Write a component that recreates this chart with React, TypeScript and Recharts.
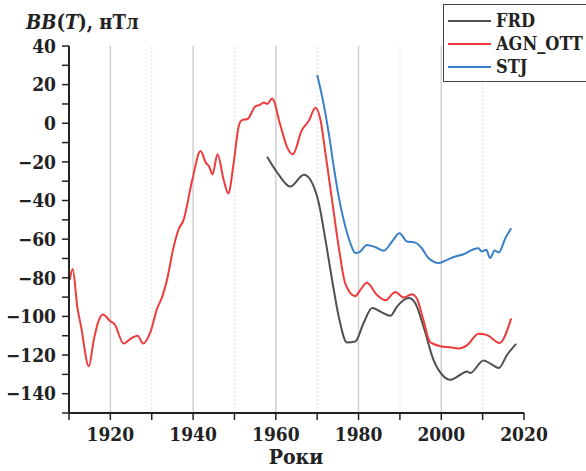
import React from 'react';
import { LineChart, Line, XAxis, YAxis, ReferenceLine } from 'recharts';

const FONT = '"DejaVu Serif Condensed", "DejaVu Serif", serif';
const INK = '#222';

const RED = '#ee3b3b';
const BLUE = '#3a80c8';
const GRAY = '#505050';

// year, value (нТл)
const agnOtt = [
  { year: 1910.2, v: -81 }, { year: 1910.9, v: -75.5 }, { year: 1912.0, v: -95 },
  { year: 1912.9, v: -105 }, { year: 1914.8, v: -125.8 }, { year: 1916.0, v: -112 },
  { year: 1917.2, v: -102 }, { year: 1918.2, v: -99 }, { year: 1920.0, v: -102.5 },
  { year: 1921.0, v: -104 }, { year: 1923.2, v: -114 }, { year: 1925.3, v: -111 },
  { year: 1926.6, v: -110 }, { year: 1927.9, v: -114 }, { year: 1929.7, v: -108 },
  { year: 1931.3, v: -96 }, { year: 1932.5, v: -90 }, { year: 1933.7, v: -81 },
  { year: 1935.3, v: -64 }, { year: 1936.5, v: -55 }, { year: 1937.7, v: -50 },
  { year: 1939.8, v: -29.4 }, { year: 1941.8, v: -14.4 }, { year: 1943.1, v: -20.5 },
  { year: 1943.9, v: -22.5 }, { year: 1944.7, v: -26.5 }, { year: 1945.9, v: -16 },
  { year: 1947.4, v: -29.4 }, { year: 1948.5, v: -36.3 }, { year: 1949.8, v: -20.8 },
  { year: 1951.0, v: -1.8 }, { year: 1951.8, v: 1.6 }, { year: 1953.2, v: 2.2 },
  { year: 1955.1, v: 8.9 }, { year: 1956.1, v: 9.4 }, { year: 1957.1, v: 10.8 },
  { year: 1957.9, v: 10 }, { year: 1959.1, v: 12.8 }, { year: 1961.1, v: -1 },
  { year: 1962.7, v: -12.2 }, { year: 1964.1, v: -16.1 }, { year: 1966.3, v: -3.5 },
  { year: 1967.9, v: 1 }, { year: 1969.6, v: 8 }, { year: 1970.8, v: 1.7 },
  { year: 1972.0, v: -15.6 }, { year: 1973.6, v: -39.8 }, { year: 1975.2, v: -64 },
  { year: 1976.8, v: -83 }, { year: 1979.2, v: -89.5 }, { year: 1980.4, v: -86.4 },
  { year: 1982.0, v: -82.6 }, { year: 1984.5, v: -89 }, { year: 1986.5, v: -91.6 },
  { year: 1988.9, v: -87.3 }, { year: 1990.9, v: -90.2 }, { year: 1992.9, v: -88.5 },
  { year: 1994.1, v: -90.7 }, { year: 1995.7, v: -102 }, { year: 1997.3, v: -113.2 },
  { year: 1999.8, v: -115.4 }, { year: 2002.2, v: -116 }, { year: 2004.2, v: -116.6 },
  { year: 2006.2, v: -115 }, { year: 2009.0, v: -109 }, { year: 2011.1, v: -109.7 },
  { year: 2014.1, v: -113.7 }, { year: 2016.9, v: -101 },
];

const frd = [
  { year: 1957.9, v: -17.3 }, { year: 1960.5, v: -26 }, { year: 1963.5, v: -32.8 },
  { year: 1966.8, v: -26.7 }, { year: 1968.8, v: -31 }, { year: 1970.4, v: -41.4 },
  { year: 1972.0, v: -60.4 }, { year: 1973.6, v: -81 }, { year: 1975.2, v: -100 },
  { year: 1977.2, v: -113.5 }, { year: 1979.2, v: -113 }, { year: 1981.2, v: -103.5 },
  { year: 1983.3, v: -95.7 }, { year: 1985.3, v: -97.5 }, { year: 1987.7, v: -99.7 },
  { year: 1989.3, v: -94.9 }, { year: 1992.1, v: -90.5 }, { year: 1993.7, v: -93.1 },
  { year: 1995.7, v: -105.2 }, { year: 1998.1, v: -122.4 }, { year: 2000.2, v: -130.2 },
  { year: 2002.2, v: -132.8 }, { year: 2004.6, v: -130.2 }, { year: 2006.2, v: -128.5 },
  { year: 2007.0, v: -129.3 }, { year: 2010.2, v: -122.8 }, { year: 2012.3, v: -125 },
  { year: 2013.9, v: -126.7 }, { year: 2015.9, v: -119.9 }, { year: 2018.1, v: -114.2 },
];

const stj = [
  { year: 1970.0, v: 25 }, { year: 1971.2, v: 13.8 }, { year: 1972.8, v: -5.2 },
  { year: 1974.0, v: -22.4 }, { year: 1975.2, v: -38 }, { year: 1976.8, v: -53.5 },
  { year: 1978.0, v: -62 }, { year: 1979.2, v: -67.2 }, { year: 1980.4, v: -66.4 },
  { year: 1982.0, v: -63 }, { year: 1984.1, v: -64.2 }, { year: 1986.1, v: -66 },
  { year: 1988.1, v: -61.2 }, { year: 1989.9, v: -56.9 }, { year: 1991.7, v: -61.2 },
  { year: 1993.7, v: -61.8 }, { year: 1995.3, v: -64.7 }, { year: 1996.9, v: -69.8 },
  { year: 1999.4, v: -72.4 }, { year: 2001.4, v: -70.7 }, { year: 2003.4, v: -69 },
  { year: 2005.4, v: -67.8 }, { year: 2007.8, v: -65.2 }, { year: 2009.0, v: -64.7 },
  { year: 2009.8, v: -66.4 }, { year: 2010.9, v: -65.5 }, { year: 2011.8, v: -69.8 },
  { year: 2012.9, v: -65.9 }, { year: 2013.9, v: -66.9 }, { year: 2015.5, v: -59.5 },
  { year: 2016.9, v: -54.3 },
];

const series = [
  { name: 'FRD', data: frd, color: GRAY },
  { name: 'AGN_OTT', data: agnOtt, color: RED },
  { name: 'STJ', data: stj, color: BLUE },
];

const xTicks = [1910, 1920, 1930, 1940, 1950, 1960, 1970, 1980, 1990, 2000, 2010, 2020];
const yTicks = [-150, -140, -130, -120, -110, -100, -90, -80, -70, -60, -50, -40, -30, -20, -10, 0, 10, 20, 30, 40];
const majorGrid = [1920, 1940, 1960, 1980, 2000];
const minorGrid = [1930, 1950, 1970, 1990, 2010];

const tickStyle = { fill: INK, fontSize: 19, fontFamily: FONT, fontWeight: 700 };
const label20 = (v: number) => (v % 20 === 0 ? String(v).replace('-', '\u2212') : '');

function LegendBox() {
  return (
    <div
      style={{
        position: 'absolute',
        left: 443,
        top: 4,
        width: 150,
        border: '1.5px solid #444',
        background: '#fff',
        padding: '4px 0 3px 4px',
        fontFamily: FONT,
        fontWeight: 700,
        fontSize: 18,
        color: INK,
      }}
    >
      {series.map((s) => (
        <div key={s.name} style={{ display: 'flex', alignItems: 'center', height: 23 }}>
          <div style={{ width: 43, height: 2, background: s.color, marginRight: 5 }} />
          <span>{s.name}</span>
        </div>
      ))}
    </div>
  );
}

export default function App() {
  return (
    <div style={{ position: 'absolute', left: 0, top: 0, width: 586, height: 471, background: '#fff', overflow: 'hidden' }}>
      <LineChart width={586} height={471} margin={{ top: 46, right: 62, left: 0, bottom: 0 }}>
        <XAxis
          type="number"
          dataKey="year"
          domain={[1910, 2020]}
          ticks={xTicks}
          tickFormatter={label20}
          tick={tickStyle}
          tickSize={7}
          tickMargin={8}
          height={58}
          axisLine={{ stroke: INK, strokeWidth: 2 }}
          tickLine={{ stroke: INK, strokeWidth: 1.5 }}
          allowDataOverflow
        />
        <YAxis
          type="number"
          domain={[-150, 40]}
          ticks={yTicks}
          tickFormatter={label20}
          tick={tickStyle}
          tickSize={7}
          tickMargin={6}
          width={69}
          interval={0}
          axisLine={{ stroke: INK, strokeWidth: 2 }}
          tickLine={{ stroke: INK, strokeWidth: 1.5 }}
          allowDataOverflow
        />
        {majorGrid.map((x) => (
          <ReferenceLine key={x} x={x} stroke="#cfcfcf" strokeWidth={1.5} />
        ))}
        {minorGrid.map((x) => (
          <ReferenceLine key={x} x={x} stroke="#e2e2e2" strokeWidth={1} strokeDasharray="2 2" />
        ))}
        {series.map((s) => (
          <Line
            key={s.name}
            data={s.data}
            dataKey="v"
            name={s.name}
            type="monotone"
            stroke={s.color}
            strokeWidth={2}
            dot={false}
            isAnimationActive={false}
          />
        ))}
      </LineChart>
      <LegendBox />
      <div style={{ position: 'absolute', left: 26, top: 10, fontFamily: FONT, fontWeight: 700, fontSize: 20, color: INK, whiteSpace: 'nowrap' }}>
        <i>BB</i>(<i>T</i>), нТл
      </div>
      <div style={{ position: 'absolute', left: 0, width: 592, top: 444, textAlign: 'center', fontFamily: FONT, fontWeight: 700, fontSize: 21, color: INK }}>
        Роки
      </div>
    </div>
  );
}
